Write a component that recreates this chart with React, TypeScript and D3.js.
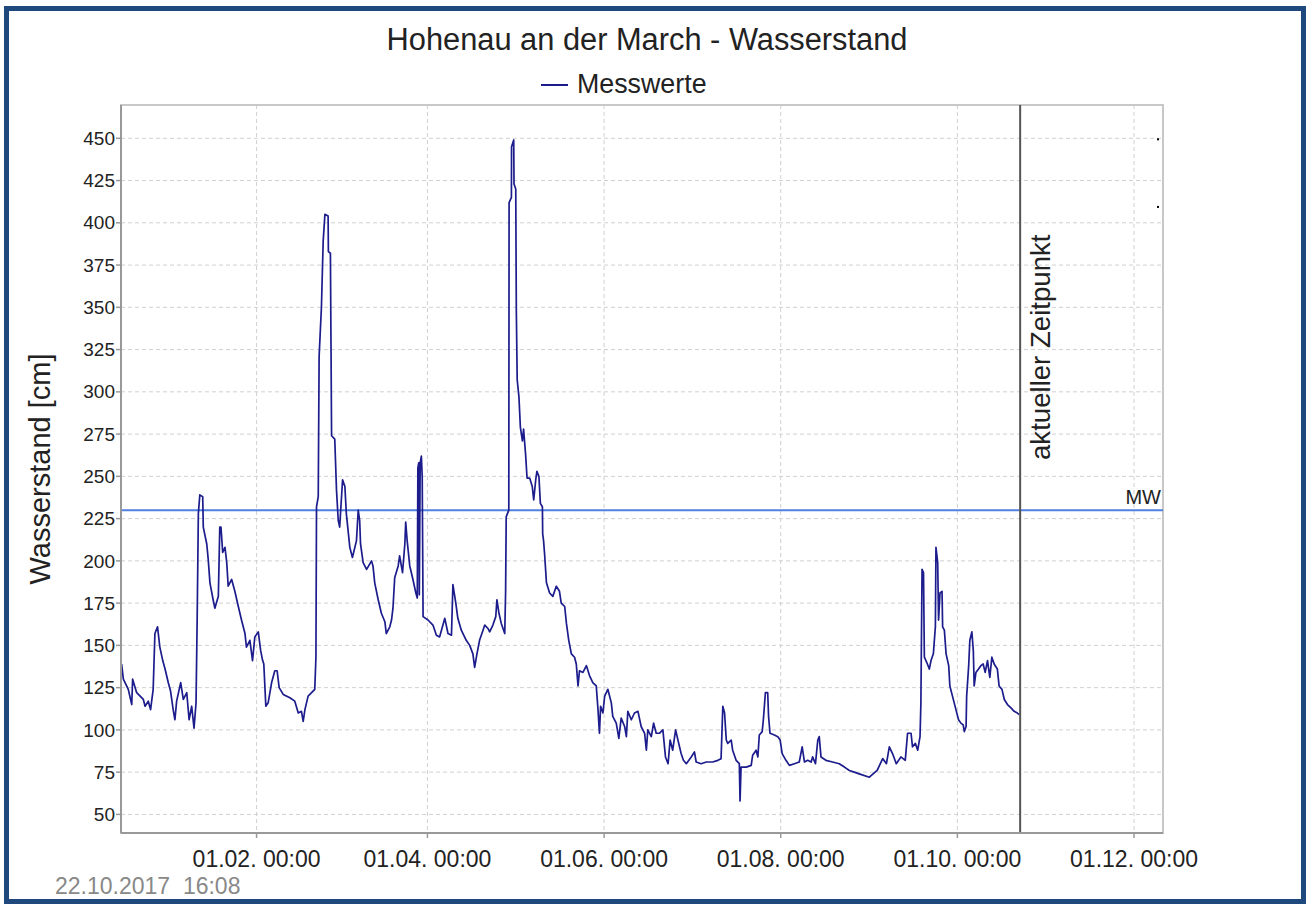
import React from "react";
import * as d3 from "d3";

// Days since 2017-01-01 00:00 and measured water level [cm]
const measurementDay = [
  -15.6, -15.0, -13.3, -12.1, -11.8, -10.4, -8.1, -7.5, -6.4, -5.6, -4.7, -4.1, -3.2, -2.4, -1.4, -0.6,
  0.5, 1.3, 2.2, 2.8, 3.4, 4.8, 5.7, 6.9, 7.7, 8.6, 9.4, 10.1, 10.5, 10.9, 11.4, 12.4, 12.6, 13.8, 14.3,
  14.9, 16.0, 16.6, 17.8, 18.3, 18.7, 19.3, 20.1, 20.7, 21.2, 22.4, 23.5, 24.7, 25.8, 27.0, 27.5, 28.7,
  29.6, 30.4, 31.6, 32.4, 33.1, 33.5, 34.2, 35.0, 36.2, 37.3, 38.1, 38.8, 40.2, 42.5, 44.2, 45.4, 46.5,
  47.1, 47.7, 48.8, 50.0, 51.1, 51.5, 51.7, 52.3, 52.6, 53.4, 54.0, 54.6, 55.7, 55.8, 56.5, 56.7, 56.9,
  58.0, 58.6, 59.2, 59.7, 60.7, 61.5, 62.0, 62.6, 63.2, 64.1, 65.5, 66.1, 66.6, 66.9, 67.8, 69.0, 70.7,
  71.2, 71.8, 73.0, 74.1, 75.3, 75.8, 77.0, 77.6, 78.1, 78.7, 79.9, 80.4, 81.4, 82.2, 82.5, 83.0, 83.9,
  85.0, 86.0, 86.5, 86.7, 87.0, 87.2, 87.5, 87.9, 88.2, 88.5, 90.2, 91.9, 93.1, 94.2, 96.0, 97.1, 98.3,
  98.8, 99.8, 100.5, 101.7, 103.4, 104.6, 105.7, 106.3, 107.1, 108.0, 109.2, 109.8, 110.9, 111.5, 112.6,
  113.6, 114.0, 114.7, 115.5, 116.7, 117.0, 117.2, 118.1, 118.2, 119.0, 119.05, 119.8, 119.9, 120.5,
  120.7, 121.0, 121.6, 122.1, 122.8, 123.2, 123.9, 124.4, 125.3, 126.2, 126.7, 127.4, 127.8, 128.5,
  129.0, 129.7, 129.8, 130.1, 130.5, 131.1, 132.2, 133.3, 134.5, 135.6, 136.2, 137.4, 138.0, 138.8,
  139.7, 140.8, 141.4, 142.0, 142.5, 143.7, 144.9, 146.0, 147.1, 148.3, 148.9, 149.4, 149.8, 150.6,
  151.2, 152.3, 153.5, 154.0, 155.2, 156.1, 156.9, 158.1, 158.7, 159.2, 160.4, 161.5, 162.7, 163.8,
  165.0, 165.6, 166.1, 167.3, 168.1, 169.0, 170.1, 171.3, 172.2, 173.1, 173.8, 174.7, 175.7, 176.5,
  177.6, 178.4, 179.4, 181.1, 182.2, 182.8, 184.5, 186.3, 188.5, 190.3, 191.4, 192.0, 192.6, 193.2,
  193.7, 194.9, 195.4, 196.6, 197.7, 197.95, 198.3, 200.1, 201.8, 202.3, 203.5, 204.1, 204.6, 205.6,
  206.0, 206.7, 207.5, 207.8, 208.3, 209.8, 211.0, 211.8, 212.5, 213.8, 215.0, 216.7, 218.4, 219.4,
  220.2, 221.3, 222.5, 223.0, 224.0, 224.8, 225.3, 225.9, 227.6, 229.9, 232.2, 234.0, 235.7, 237.4,
  239.1, 242.6, 245.3, 247.2, 248.5, 249.5, 250.6, 251.9, 253.5, 255.0, 255.8, 257.0, 257.5, 258.5,
  259.3, 260.1, 260.4, 260.8, 261.3, 261.6, 262.4, 263.3, 263.9, 264.7, 265.4, 265.6, 266.2, 266.5,
  267.0, 267.7, 267.9, 268.5, 269.1, 270.0, 270.4, 271.3, 272.5, 273.4, 274.2, 275.0, 275.4, 276.0,
  276.2, 276.9, 277.3, 278.0, 278.5, 278.8, 279.4, 280.3, 281.1, 281.9, 282.6, 283.4, 284.2, 284.9,
  285.7, 286.8, 287.4, 288.4, 289.2, 290.3, 291.5, 292.6, 293.7, 294.3,
];

const measurementCm = [
  139, 130, 124, 115, 130, 122, 118, 114, 117, 112, 124, 157, 161, 149, 141, 136,
  128, 123, 112, 106, 117, 128, 118, 122, 106, 114, 101, 116, 167, 228, 239, 238, 220, 210, 201,
  187, 177, 172, 179, 220, 220, 205, 208, 199, 185, 189, 182, 173, 165, 157, 149, 153,
  141, 155, 158, 147, 141, 139, 114, 116, 128, 135, 135, 125, 121, 119, 117, 110, 111,
  105, 112, 120, 122, 124, 143, 232, 238, 321, 350, 389, 405, 404, 383, 382, 329, 274,
  272, 242, 224, 220, 248, 244, 228, 218, 208, 202, 212, 230, 224, 210, 199, 195, 200,
  197, 187, 177, 169, 164, 157, 161, 165, 172, 190, 197, 203, 193, 210, 223, 212, 197,
  189, 181, 178, 255, 258, 180, 258, 262, 250, 167, 165, 162, 156, 155, 166, 157, 156,
  186, 175, 166, 159, 153, 150, 145, 137, 145, 153, 159, 162, 160, 158, 162,
  167, 177, 169, 163, 157, 182, 226, 230, 412, 415, 445, 449, 423, 420,
  348, 307, 297, 279, 271, 278, 263, 249, 249, 244, 236, 248, 253, 250,
  234, 232, 216, 212, 203, 187, 181, 179, 185, 182, 175, 173, 163, 153,
  145, 143, 139, 126, 135, 134, 138, 132, 128, 126, 112, 98, 114, 110,
  120, 124, 116, 108, 104, 95, 107, 102, 96, 111, 106, 110, 111, 102,
  98, 88, 100, 96, 104, 98, 98, 100, 84, 80, 94, 88, 100, 94,
  86, 82, 80, 84, 87, 81, 80, 81, 81, 82, 83, 114, 110, 94,
  92, 94, 88, 82, 80, 58, 78, 78, 79, 85, 88, 84, 97, 99,
  106, 122, 122, 108, 98, 97, 96, 94, 86, 82, 79, 80, 81, 90,
  81, 82, 81, 84, 80, 94, 96, 84, 82, 81, 80, 78, 76, 75,
  74, 72, 76, 83, 80, 90, 86, 80, 84, 82, 98, 98, 90, 92,
  88, 96, 116, 195, 193, 143, 140, 136, 141, 145, 161, 208, 199, 165,
  181, 182, 161, 159, 145, 138, 126, 120, 112, 106, 104, 103, 99, 102,
  120, 138, 153, 158, 147, 126, 134, 136, 138, 139, 134, 141, 131, 143,
  139, 136, 126, 124, 118, 115, 113, 111, 110, 109,
];

const yTicks = [50, 75, 100, 125, 150, 175, 200, 225, 250, 275, 300, 325, 350, 375, 400, 425, 450];
const xTickDates = [
  new Date(2017, 1, 1), new Date(2017, 3, 1), new Date(2017, 5, 1),
  new Date(2017, 7, 1), new Date(2017, 9, 1), new Date(2017, 11, 1),
];
const meanWaterLevel = 230;
const currentTime = new Date(2017, 9, 22, 16, 8);
const timeDomain = [new Date(2016, 11, 16, 4, 30), new Date(2017, 11, 11, 0, 0)];
const valueDomain = [39, 469.7];

const titleText = "Hohenau an der March - Wasserstand";
const legendText = "Messwerte";
const yAxisTitle = "Wasserstand [cm]";
const nowLabel = "aktueller Zeitpunkt";
const mwLabel = "MW";
const stampText = "22.10.2017  16:08";

const FONT = "'Liberation Sans', Arial, sans-serif";

export default function App() {
  const L = 121, R = 1163, T = 105, B = 833;
  const x = d3.scaleTime().domain(timeDomain).range([L, R]);
  const y = d3.scaleLinear().domain(valueDomain).range([B, T]);
  const base = new Date(2017, 0, 1).getTime();
  const pts: [Date, number][] = measurementDay.map((d, i) => [new Date(base + d * 864e5), measurementCm[i]]);
  const line = d3.line<[Date, number]>().x((p) => x(p[0])).y((p) => y(p[1]));
  const fmt = d3.timeFormat("%d.%m. %H:%M");
  const nowX = x(currentTime);
  const mwY = y(meanWaterLevel);

  return (
    <svg width={1306} height={906} style={{ position: "absolute", left: 0, top: 0, fontFamily: FONT }}>
      <rect x={0} y={0} width={1306} height={906} fill="#fff" />
      <rect x={6.5} y={8.5} width={1297} height={893} fill="#fff" stroke="#1f497d" strokeWidth={5} />

      <text x={647} y={50} textAnchor="middle" fontSize={30.8} fill="#222">{titleText}</text>
      <line x1={541} x2={568} y1={85} y2={85} stroke="#1c1c8c" strokeWidth={2} />
      <text x={577} y={93} fontSize={26.8} fill="#222">{legendText}</text>

      {/* grid */}
      {yTicks.map((t) => (
        <line key={"gy" + t} x1={L} x2={R} y1={y(t)} y2={y(t)} stroke="#d0d0d0" strokeWidth={1} strokeDasharray="4,3" />
      ))}
      {xTickDates.map((d, i) => (
        <line key={"gx" + i} x1={x(d)} x2={x(d)} y1={T} y2={B} stroke="#d0d0d0" strokeWidth={1} strokeDasharray="4,3" />
      ))}

      <rect x={L} y={T} width={R - L} height={B - T} fill="none" stroke="#c8c8c8" strokeWidth={2} />

      {/* MW line */}
      <line x1={L} x2={R} y1={mwY} y2={mwY} stroke="#4f80e0" strokeWidth={2} />
      <text x={1161} y={mwY - 6} textAnchor="end" fontSize={20} fill="#222">{mwLabel}</text>

      {/* series */}
      <path d={line(pts) || ""} fill="none" stroke="#1c1c8c" strokeWidth={1.7} strokeLinejoin="round" />

      {/* current time */}
      <line x1={nowX} x2={nowX} y1={T} y2={B} stroke="#555" strokeWidth={2} />
      <text transform={`translate(${nowX + 30},460) rotate(-90)`} fontSize={27.6} fill="#222">{nowLabel}</text>

      <rect x={1157} y={y(450)} width={2} height={2} fill="#000" />
      <rect x={1157} y={y(410)} width={2} height={2} fill="#000" />

      {/* axes */}
      <line x1={L} x2={L} y1={T} y2={B} stroke="#999" strokeWidth={2} />
      <line x1={L} x2={R} y1={B} y2={B} stroke="#999" strokeWidth={2} />
      {yTicks.map((t) => (
        <g key={"ty" + t}>
          <line x1={L - 5} x2={L} y1={y(t)} y2={y(t)} stroke="#999" strokeWidth={1.5} />
          <text x={L - 6} y={y(t)} dy="0.35em" textAnchor="end" fontSize={19} fill="#222">{t}</text>
        </g>
      ))}
      {xTickDates.map((d, i) => (
        <g key={"tx" + i}>
          <line x1={x(d)} x2={x(d)} y1={B} y2={B + 5} stroke="#999" strokeWidth={1.5} />
          <text x={x(d)} y={867} textAnchor="middle" fontSize={23} fill="#222">{fmt(d)}</text>
        </g>
      ))}

      <text transform={`translate(50,469) rotate(-90)`} textAnchor="middle" fontSize={29} fill="#222">{yAxisTitle}</text>
      <text x={55} y={894} fontSize={23} fill="#888" style={{ whiteSpace: "pre" }}>{stampText}</text>
    </svg>
  );
}
